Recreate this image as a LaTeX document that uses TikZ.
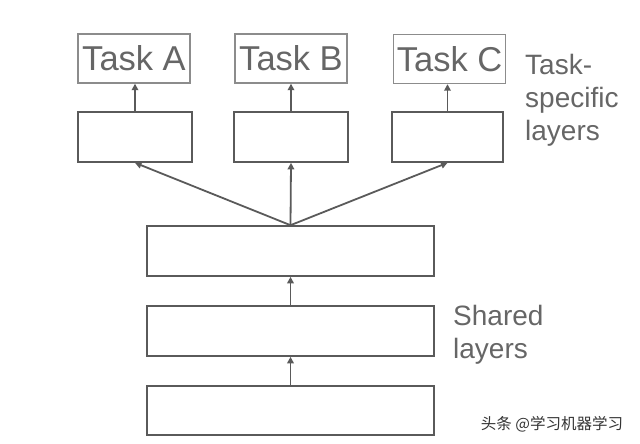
\documentclass[tikz,border=0pt]{standalone}
\usepackage{fontspec}
\setmainfont{Liberation Sans}
\newfontfamily\cjk{Noto Sans CJK SC}
\usetikzlibrary{arrows.meta}
\definecolor{boxline}{HTML}{5A5A5A}
\definecolor{taskline}{HTML}{8C8C8C}
\definecolor{txt}{HTML}{666666}
\definecolor{wm}{HTML}{333333}
\tikzset{
  layerbox/.style={draw=boxline, line width=1.6pt, minimum height=50pt, inner sep=0pt},
  taskbox/.style={draw=taskline, line width=1.4pt, minimum height=49pt, minimum width=112pt, inner sep=0pt,
    text=txt, font=\fontsize{34.5}{40}\selectfont},
  arr/.style={draw=boxline, line width=1.8pt, -{Triangle[length=6.5pt,width=6.5pt]}},
  sidelabel/.style={anchor=north west, inner sep=0pt, align=left, text=txt, font=\fontsize{28}{33}\selectfont},
}
\begin{document}
\begin{tikzpicture}[x=1pt,y=-1pt]
\useasboundingbox (0,0) rectangle (640,444);
% task boxes
\node[taskbox] (ta) at (134,58.5) {Task A};
\node[taskbox] (tb) at (291,58.5) {Task B};
\node[taskbox] (tc) at (449.5,59) {Task C};
% task-specific layers
\node[layerbox, minimum width=114pt] (la) at (135,137) {};
\node[layerbox, minimum width=114pt] (lb) at (291,137) {};
\node[layerbox, minimum width=111pt] (lc) at (447.5,137) {};
% shared layers
\node[layerbox, minimum width=287pt] (s1) at (290.5,251) {};
\node[layerbox, minimum width=287pt] (s2) at (290.5,331) {};
\node[layerbox, minimum width=287pt, minimum height=49pt] (s3) at (290.5,410.5) {};
% arrows
\draw[arr] (la.north) -- (la.north |- ta.south);
\draw[arr] (lb.north) -- (lb.north |- tb.south);
\draw[arr] (lc.north) -- (lc.north |- tc.south);
\draw[arr] (s1.north) -- (la.south);
\draw[arr] (s1.north) -- (lb.south);
\draw[arr] (s1.north) -- (lc.south);
\draw[arr] (s2.north) -- (s1.south);
\draw[arr] (s3.north) -- (s2.south);
% labels
\node[sidelabel] (tsl) at (525,54) {Task-\\specific\\layers};
\node[sidelabel] (shl) at (453,305) {Shared\\layers};
\node[text=wm, font=\cjk\fontsize{15.5}{18}\selectfont, inner sep=0pt] (wmk) at (552,424) {头条 @学习机器学习};
\end{tikzpicture}
\end{document}
